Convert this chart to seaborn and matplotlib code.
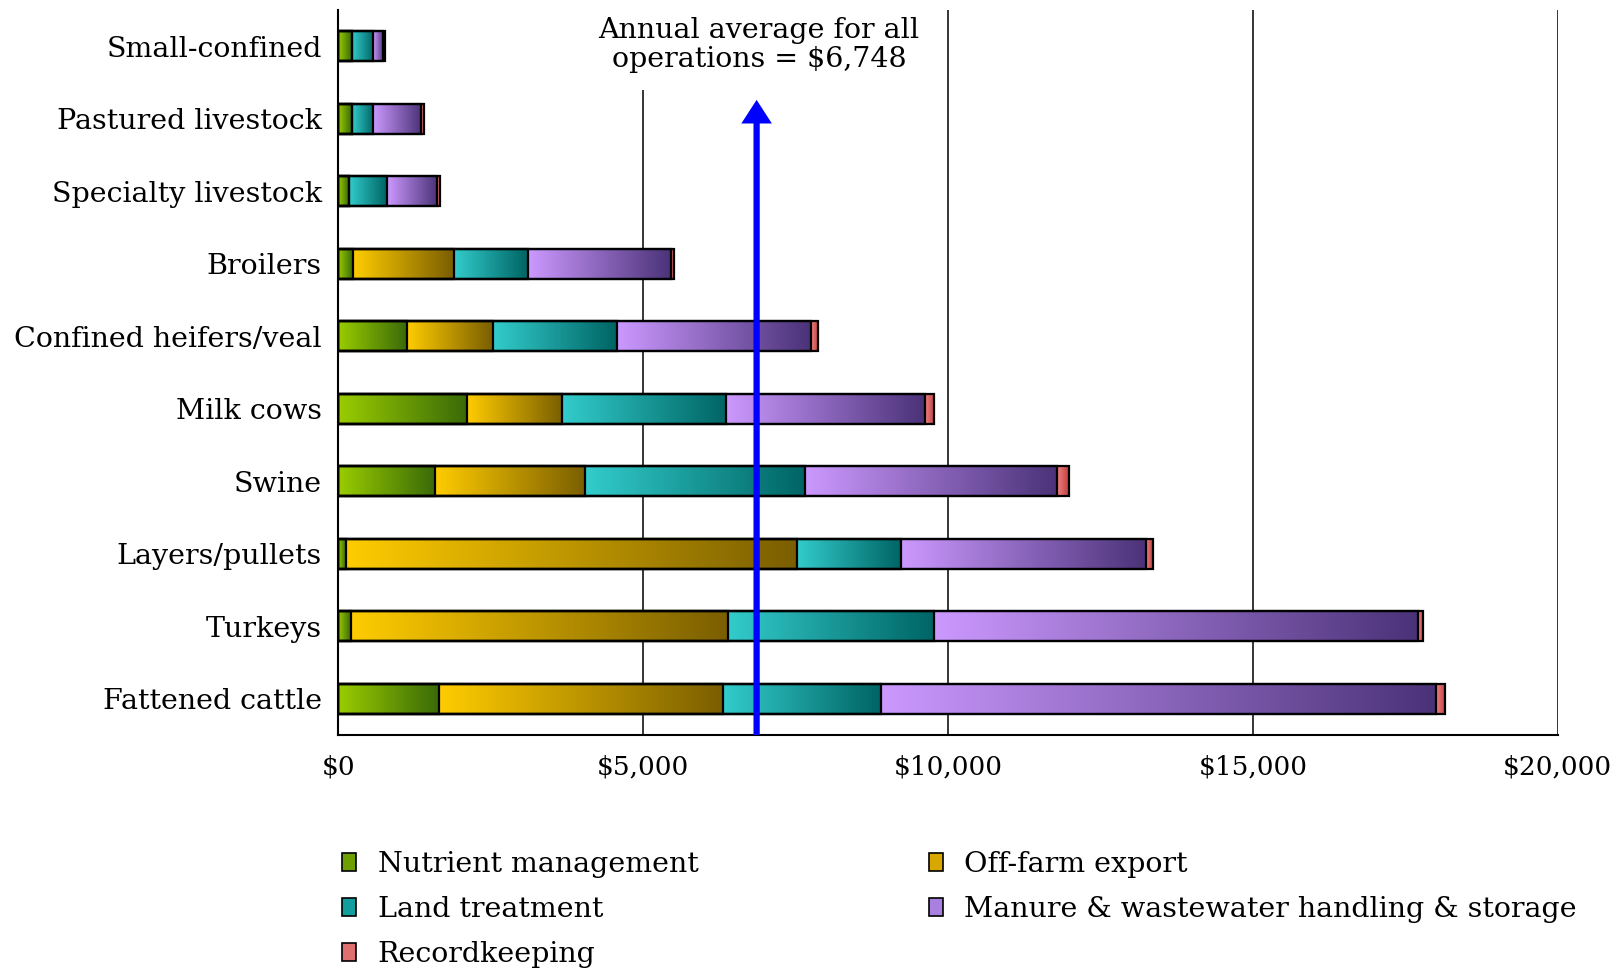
import numpy as np
import pandas as pd
import matplotlib
matplotlib.use("Agg")
import matplotlib.pyplot as plt
from matplotlib.colors import LinearSegmentedColormap
from matplotlib.patches import Patch
import seaborn as sns

# ---------------- data ----------------
categories = ["Small-confined", "Pastured livestock", "Specialty livestock", "Broilers",
              "Confined heifers/veal", "Milk cows", "Swine", "Layers/pullets",
              "Turkeys", "Fattened cattle"]
nutrient_management = [220, 220, 180, 245, 1130, 2115, 1580, 125, 205, 1650]
off_farm_export = [0, 0, 0, 1650, 1410, 1560, 2465, 7405, 6190, 4665]
land_treatment = [350, 350, 610, 1210, 2030, 2690, 3605, 1695, 3380, 2585]
manure_handling = [170, 790, 830, 2350, 3180, 3250, 4140, 4025, 7935, 9100]
recordkeeping = [30, 50, 50, 45, 120, 150, 190, 110, 85, 155]

series_names = ["Nutrient management", "Off-farm export", "Land treatment",
                "Manure & wastewater handling & storage", "Recordkeeping"]
annual_average = 6748
arrow_position = 6860
x_ticks = [0, 5000, 10000, 15000, 20000]
x_tick_labels = ["\\$0", "\\$5,000", "\\$10,000", "\\$15,000", "\\$20,000"]

# gradient colours (light -> dark) and legend colours
grad_colors = [("#9ACD00", "#3A6A08"),
               ("#FFCC00", "#7A5E00"),
               ("#33CCCC", "#006464"),
               ("#CC99FF", "#4A3278"),
               ("#F08080", "#C04040")]
legend_colors = ["#6E9E00", "#D9A800", "#139E9E", "#A880E0", "#E07070"]

# ---------------- figure ----------------
sns.set_style("white")
plt.rcParams["font.family"] = ["DejaVu Serif"]
plt.rcParams["font.size"] = 20.5
for key in ["text.color", "axes.labelcolor", "xtick.color", "ytick.color"]:
    plt.rcParams[key] = "black"

fig = plt.figure(figsize=(16.22, 9.68), dpi=100)
ax = fig.add_axes([0.2086, 0.2407, 0.9604 - 0.2086, 0.9897 - 0.2407])

df = pd.DataFrame({"category": categories,
                   series_names[0]: nutrient_management,
                   series_names[1]: off_farm_export,
                   series_names[2]: land_treatment,
                   series_names[3]: manure_handling,
                   series_names[4]: recordkeeping})
cum = df[series_names].cumsum(axis=1)

# draw cumulative bars, longest first, keep patches per series
bars = {}
for k in range(len(series_names) - 1, -1, -1):
    n_before = len(ax.patches)
    sns.barplot(x=cum[series_names[k]], y=df["category"], orient="h", ax=ax,
                color=grad_colors[k][0], saturation=1, width=0.41,
                edgecolor="black", linewidth=1.6, errorbar=None)
    bars[k] = ax.patches[n_before:]

grad = np.linspace(0, 1, 256).reshape(1, -1)
for k in range(len(series_names)):
    cmap = LinearSegmentedColormap.from_list(f"g{k}", grad_colors[k])
    for i, p in enumerate(bars[k]):
        p.set_facecolor("none")
        p.set_zorder(3)
        x1 = p.get_width()
        x0 = bars[k - 1][i].get_width() if k > 0 else 0.0
        if x1 - x0 <= 0:
            continue
        y0 = p.get_y()
        y1 = y0 + p.get_height()
        ax.imshow(grad, extent=[x0, x1, y1, y0], aspect="auto", cmap=cmap,
                  interpolation="bilinear", zorder=2)

ax.set_xlim(0, 20000)
ax.set_ylim(len(categories) - 0.5, -0.5)

# grid and spines
ax.set_axisbelow(True)
ax.grid(axis="x", color="black", linewidth=1.1, zorder=0.5)
ax.grid(axis="y", visible=False)
for s in ["top", "right"]:
    ax.spines[s].set_visible(False)
for s in ["left", "bottom"]:
    ax.spines[s].set_color("black")
    ax.spines[s].set_linewidth(1.5)

ax.set_xticks(x_ticks)
ax.set_xticklabels(x_tick_labels)
ax.tick_params(axis="x", direction="out", length=7, width=1.5, color="black",
               pad=7, labelsize=19)
ax.set_yticks(range(len(categories)))
ax.set_yticklabels(categories)
ax.set_yticks(np.arange(-0.5, len(categories), 1.0), minor=True)
ax.tick_params(axis="y", which="major", length=0, pad=12, labelsize=20.5)
ax.tick_params(axis="y", which="minor", direction="out", length=7, width=1.5,
               color="black")
ax.set_xlabel("")
ax.set_ylabel("")

# annotation
ax.annotate("", xy=(arrow_position, 0.74), xytext=(arrow_position, len(categories) - 0.5),
            arrowprops=dict(facecolor="#0000FF", edgecolor="none", width=4.5,
                            headwidth=22, headlength=17, shrink=0), zorder=6)
ax.text(6900, -0.016, f"Annual average for all\noperations = \\${annual_average:,}",
        ha="center", va="center", fontsize=20.5, linespacing=1.1, zorder=5,
        bbox=dict(boxstyle="square,pad=0.6", facecolor="white", edgecolor="none"))

# legend
order = [0, 2, 4, 1, 3]
handles = [Patch(facecolor=legend_colors[k], edgecolor="black", linewidth=1.2) for k in order]
labels = [series_names[k] for k in order]
fig.legend(handles, labels, loc="upper left", bbox_to_anchor=(0.2108, 0.1205),
           ncol=2, frameon=False, fontsize=20.5, handlelength=0.5, handleheight=0.6,
           handletextpad=0.75, columnspacing=8.1, labelspacing=0.63,
           borderaxespad=0, borderpad=0)

fig.savefig("out.png", dpi=100)
